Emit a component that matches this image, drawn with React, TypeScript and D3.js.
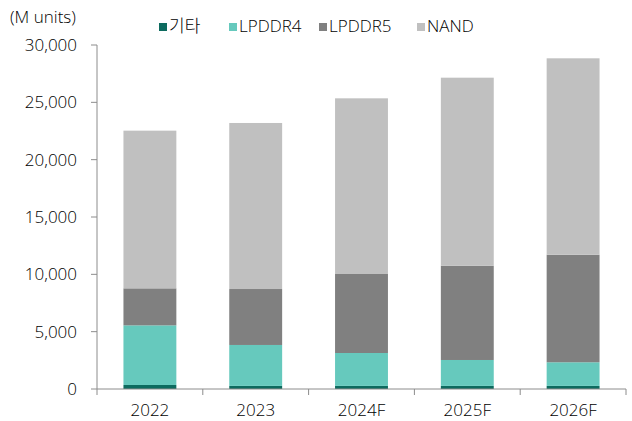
import React from "react";
import * as d3 from "d3";

const categories = ["2022", "2023", "2024F", "2025F", "2026F"];
const seriesNames = ["기타", "LPDDR4", "LPDDR5", "NAND"];
const etc = [350, 270, 270, 270, 270];
const lpddr4 = [5200, 3570, 2870, 2260, 2060];
const lpddr5 = [3230, 4880, 6890, 8220, 9380];
const nand = [13750, 14480, 15320, 16400, 17130];
const yTicks = [0, 5000, 10000, 15000, 20000, 25000, 30000];
const colors = ["#0d6b5f", "#66c9bd", "#808080", "#c0c0c0"];

const W = 632, H = 421;
const left = 97, right = 626, top = 45, bottom = 389;
const font = "'Open Sans', 'Noto Sans CJK KR', sans-serif";

export default function App() {
  const rows = categories.map((c, i) => ({
    cat: c,
    기타: etc[i],
    LPDDR4: lpddr4[i],
    LPDDR5: lpddr5[i],
    NAND: nand[i],
  }));
  const stack = d3.stack<any>().keys(seriesNames)(rows);
  const x = d3.scaleBand().domain(categories).range([left, right]).paddingInner(0.5).paddingOuter(0.25);
  const y = d3.scaleLinear().domain([0, 30000]).range([bottom, top]);
  const band = (right - left) / categories.length;
  const fmt = d3.format(",");
  const legendX = [159, 229, 319, 417];

  return (
    <svg width={W} height={H} style={{ position: "absolute", left: 0, top: 0, fontFamily: font, fontWeight: 300 }}>
      <rect width={W} height={H} fill="#fff" />
      {stack.map((s, si) => (
        <g key={s.key}>
          {s.map((d, i) => (
            <rect
              key={i}
              x={x(categories[i])}
              width={x.bandwidth()}
              y={y(d[1])}
              height={y(d[0]) - y(d[1])}
              fill={colors[si]}
            />
          ))}
        </g>
      ))}
      {/* y axis */}
      <line x1={left} x2={left} y1={top} y2={bottom} stroke="#8c8c8c" strokeWidth={1} />
      {yTicks.map((t) => (
        <g key={t}>
          <line x1={left - 6} x2={left} y1={y(t)} y2={y(t)} stroke="#8c8c8c" />
          <text x={77} y={y(t)} dy="0.35em" textAnchor="end" fontSize={17} fill="#000">
            {fmt(t)}
          </text>
        </g>
      ))}
      {/* x axis */}
      <line x1={left} x2={right} y1={bottom} y2={bottom} stroke="#8c8c8c" />
      {d3.range(categories.length + 1).map((i) => (
        <line key={i} x1={left + i * band} x2={left + i * band} y1={bottom} y2={bottom + 6} stroke="#8c8c8c" />
      ))}
      {categories.map((c) => (
        <text key={c} x={(x(c) as number) + x.bandwidth() / 2} y={410} dy="0.35em" textAnchor="middle" fontSize={17} fill="#000">
          {c}
        </text>
      ))}
      <text x={10} y={17} dy="0.35em" fontSize={17} fill="#000">(M units)</text>
      {seriesNames.map((n, i) => (
        <g key={n}>
          <rect x={legendX[i]} y={23} width={8} height={8} fill={colors[i]} />
          <text x={legendX[i] + 10} y={26} dy="0.35em" fontSize={17} fill="#000">{n}</text>
        </g>
      ))}
    </svg>
  );
}
